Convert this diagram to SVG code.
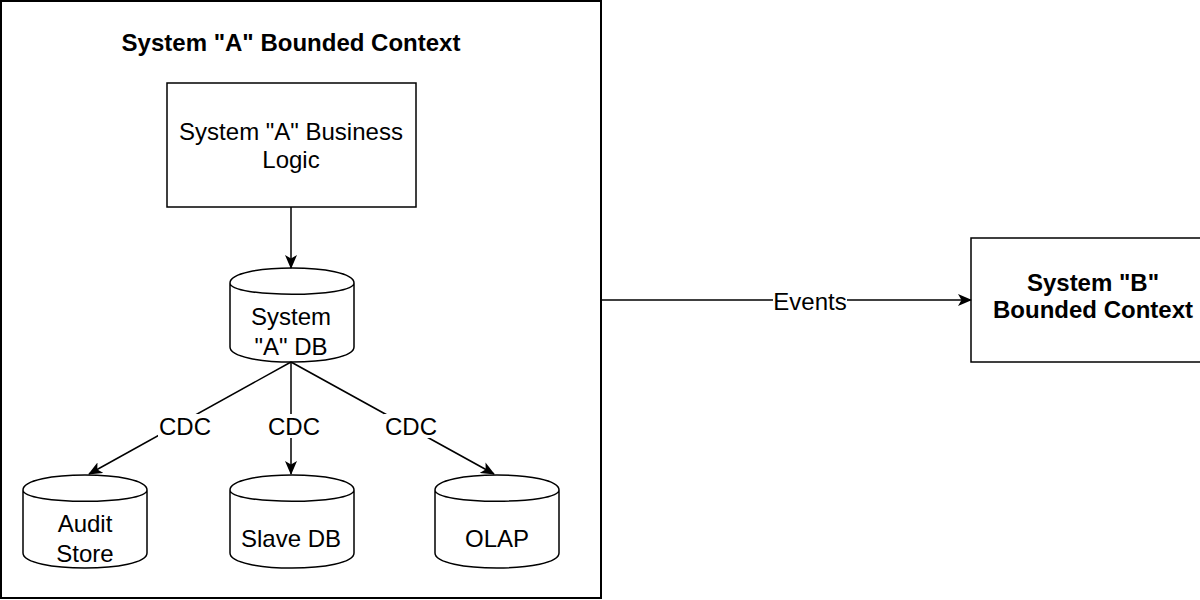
<svg xmlns="http://www.w3.org/2000/svg" width="1200" height="600" viewBox="0 0 1200 600">
<style>
.shape{fill:#fff;stroke:#000;stroke-width:1.5}
.edge{fill:none;stroke:#000;stroke-width:1.5}
.t{font-family:"Liberation Sans",Arial,sans-serif;font-size:24px;fill:#000;text-anchor:middle}
.b{font-weight:bold}
.lbg{fill:#fff}
</style>
<defs>
<marker id="arr" markerUnits="userSpaceOnUse" markerWidth="14" markerHeight="12" viewBox="0 0 14 12" refX="13" refY="6" orient="auto">
<path d="M0,0 L14,6 L0,12 L3.5,6 Z" fill="#000"/>
</marker>
</defs>
<rect width="1200" height="600" fill="#fff"/>
<g id="systemA">
<rect x="1" y="1" width="600" height="597" fill="#fff" stroke="#000" stroke-width="2"/>
<text class="t b" x="291" y="51">System "A" Bounded Context</text>
</g>
<g id="businessLogic">
<rect class="shape" x="167" y="83" width="249" height="124"/>
<text class="t" x="291" y="140">System "A" Business</text>
<text class="t" x="291" y="168">Logic</text>
</g>
<g id="dbA">
<path class="shape" d="M230,283 C230,263 354,263 354,283 L354,347 C354,367 230,367 230,347 Z M230,283 C230,298 354,298 354,283"/>
<text class="t" x="291" y="325">System</text>
<text class="t" x="291" y="355">"A" DB</text>
</g>
<g id="auditStore">
<path class="shape" d="M23,490 C23,470 147,470 147,490 L147,553 C147,573 23,573 23,553 Z M23,490 C23,505 147,505 147,490"/>
<text class="t" x="85" y="532">Audit</text>
<text class="t" x="85" y="562">Store</text>
</g>
<g id="slaveDB">
<path class="shape" d="M230,490 C230,470 354,470 354,490 L354,553 C354,573 230,573 230,553 Z M230,490 C230,505 354,505 354,490"/>
<text class="t" x="291" y="547">Slave DB</text>
</g>
<g id="olap">
<path class="shape" d="M435,490 C435,470 559,470 559,490 L559,553 C559,573 435,573 435,553 Z M435,490 C435,505 559,505 559,490"/>
<text class="t" x="497" y="547">OLAP</text>
</g>
<g id="systemB">
<rect class="shape" x="971" y="238" width="244" height="124"/>
<text class="t b" x="1093" y="291">System "B"</text>
<text class="t b" x="1093" y="318">Bounded Context</text>
</g>
<g id="connectors">
<line class="edge" x1="291" y1="207" x2="291" y2="268" marker-end="url(#arr)"/>
<line class="edge" x1="291" y1="362" x2="89" y2="474" marker-end="url(#arr)"/>
<line class="edge" x1="291" y1="362" x2="291" y2="474" marker-end="url(#arr)"/>
<line class="edge" x1="291" y1="362" x2="494" y2="474" marker-end="url(#arr)"/>
<line class="edge" x1="601" y1="300" x2="971" y2="300" marker-end="url(#arr)"/>
<rect class="lbg" x="158" y="414" width="54" height="24"/>
<text class="t" x="185" y="435">CDC</text>
<rect class="lbg" x="267" y="414" width="54" height="24"/>
<text class="t" x="294" y="435">CDC</text>
<rect class="lbg" x="384" y="414" width="54" height="24"/>
<text class="t" x="411" y="435">CDC</text>
<rect class="lbg" x="773" y="289" width="74" height="24"/>
<text class="t" x="810" y="310">Events</text>
</g>
</svg>
